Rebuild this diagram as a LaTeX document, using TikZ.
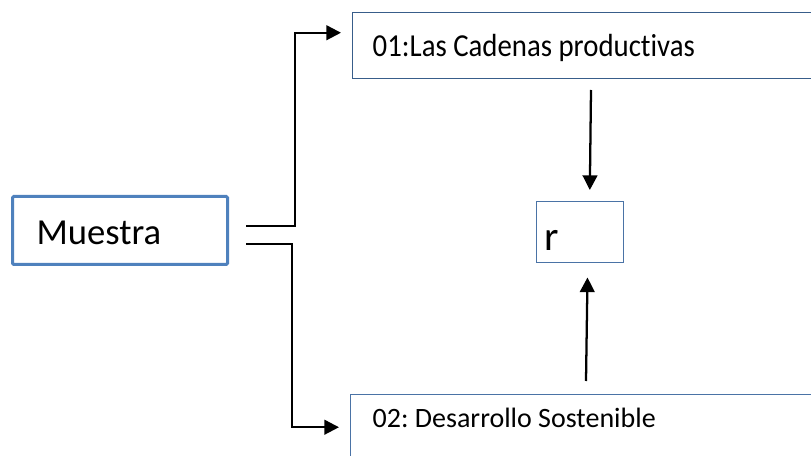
\documentclass[tikz,border=0pt]{standalone}
\usepackage{fontspec}
\setmainfont[RawFeature=-liga]{Carlito}
\newfontfamily\narrowfont[RawFeature=-liga, FakeStretch=0.9]{Carlito}
\frenchspacing
\usetikzlibrary{arrows.meta}
\definecolor{boxblue}{HTML}{4F81BD}
\definecolor{boxnavy}{HTML}{385D8A}
\definecolor{boxmid}{HTML}{4A73A6}
\begin{document}
\begin{tikzpicture}[x=0.75pt, y=-0.75pt,
    block/.style={draw, rectangle, anchor=north west, align=flush left, inner ysep=3.75pt},
    conn/.style={line width=1.7pt, -{Triangle[length=11pt, width=11pt]}}
  ]
    \clip (0,0) rectangle (811,456);

    % Blocks
    \node[block, draw=boxblue, line width=2.25pt, rounded corners=1pt, inner xsep=18pt,
          text width=125.25pt, text height=32.25pt, text depth=11.25pt,
          font=\fontsize{27.5}{32}\selectfont] at (11,195) (muestra) {Muestra};
    \node[block, draw=boxnavy, line width=1.1pt, inner xsep=15pt,
          text width=328.5pt, text height=29.25pt, text depth=12.75pt,
          font=\narrowfont\fontsize{24}{28}\selectfont] at (352,12) (cadenas) {01:Las Cadenas productivas};
    \node[block, draw=boxmid, line width=1.1pt, inner xsep=16.5pt,
          text width=325.5pt, text height=21pt, text depth=33.75pt,
          font=\fontsize{21}{25}\selectfont] at (350,394) (desarrollo) {02: Desarrollo Sostenible};
    \node[block, draw=boxmid, line width=1.1pt, inner xsep=6pt,
          text width=53.25pt, text height=33pt, text depth=5.25pt,
          font=\fontsize{31}{35}\selectfont] at (536,201) (r) {r};

    % Free ends of the connectors
    \coordinate (up0) at (246,226);
    \coordinate (low0) at (246,244);
    \coordinate (topin) at (591,90);
    \coordinate (botin) at (586,381);

    % Connections
    \draw[conn, shorten >=8.25pt] (up0) -- ++(49,0) |- ([yshift=9.75pt]cadenas.west);
    \draw[conn, shorten >=8.25pt] (low0) -- ++(46,0) |- ([yshift=6.75pt]desarrollo.west);
    \draw[conn, shorten >=8.25pt] (topin) -- ([xshift=7.1pt]r.north);
    \draw[conn, shorten >=10.5pt] (botin) -- ([xshift=5.6pt]r.south);

  \end{tikzpicture}
\end{document}
